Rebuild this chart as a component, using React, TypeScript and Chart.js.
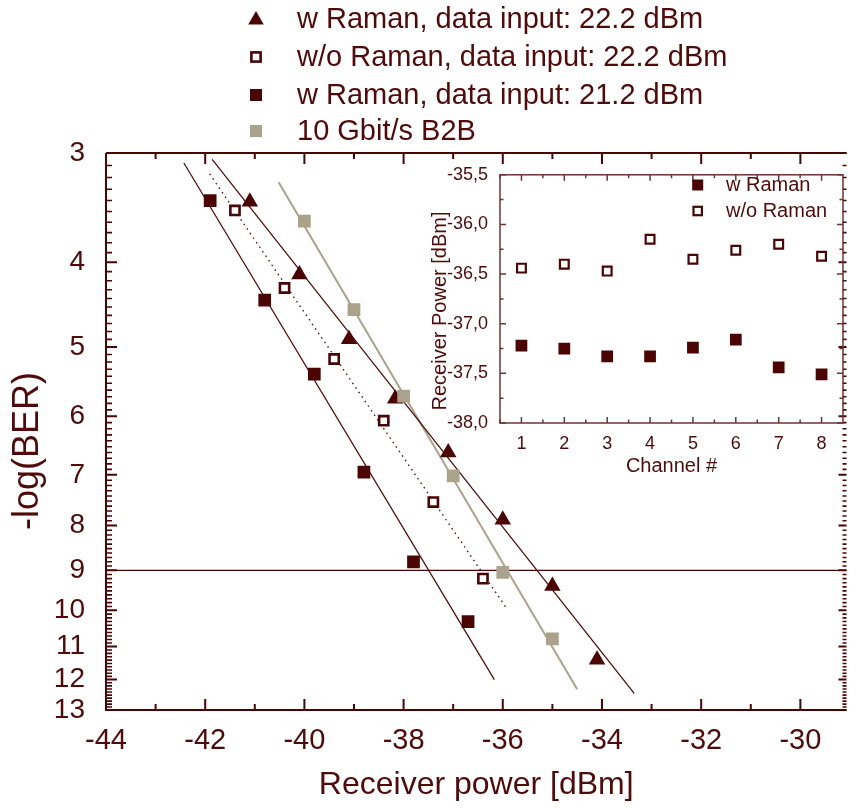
import React, { useEffect, useRef } from "react";
import { Chart, registerables } from "chart.js";

Chart.register(...registerables);

const FONT = "'Liberation Sans', Arial, Helvetica, sans-serif";
const MAROON = "#4b0404";
const TEXT = "#4f0a0a";
const GRAY = "#aba28c";
const INSET_FRAME = "#6e3434";

// ---------- main chart data ----------
const xTickValues = [-44, -42, -40, -38, -36, -34, -32, -30];
const yTickValues = [3, 4, 5, 6, 7, 8, 9, 10, 11, 12, 13];

const triX = [-41.1, -40.1, -39.1, -38.17, -37.1, -36.0, -35.0, -34.1];
const triY = [3.41, 4.13, 4.9, 5.73, 6.6, 7.88, 9.38, 11.39];
const openX = [-41.4, -40.4, -39.4, -38.4, -37.4, -36.4];
const openY = [3.49, 4.28, 5.16, 6.07, 7.52, 9.2];
const fillX = [-41.9, -40.8, -39.8, -38.8, -37.8, -36.7];
const fillY = [3.4, 4.42, 5.37, 6.95, 8.8, 10.3];
const b2bX = [-40.0, -39.0, -38.0, -37.0, -36.0, -35.0];
const b2bY = [3.59, 4.53, 5.69, 7.02, 9.05, 10.78];

const fitTriX = [-41.86, -33.35];
const fitTriY = [3.05, 12.44];
const fitOpenX = [-41.91, -35.9];
const fitOpenY = [3.17, 9.99];
const fitFillX = [-42.43, -36.17];
const fitFillY = [3.08, 12.0];
const fitB2BX = [-40.52, -34.5];
const fitB2BY = [3.24, 12.31];
const thresholdY = 9;

const legendLabels = [
  "w Raman, data input: 22.2 dBm",
  "w/o Raman, data input: 22.2 dBm",
  "w Raman, data input: 21.2 dBm",
  "10 Gbit/s B2B",
];

// ---------- inset data ----------
const channels = [1, 2, 3, 4, 5, 6, 7, 8];
const insetWRaman = [-37.22, -37.25, -37.33, -37.33, -37.24, -37.16, -37.44, -37.51];
const insetWoRaman = [-36.44, -36.4, -36.47, -36.15, -36.35, -36.26, -36.2, -36.32];
const insetYTicks = [-38, -37.5, -37, -36.5, -36, -35.5];
const insetLegend = ["w Raman", "w/o Raman"];

const pts = (xs: number[], ys: number[]) => xs.map((x, i) => ({ x, y: ys[i] }));

function triPath(ctx: CanvasRenderingContext2D, x: number, y: number, r: number) {
  ctx.beginPath();
  let rad = 0;
  for (let k = 0; k < 3; k++) {
    const px = x + Math.sin(rad) * r;
    const py = y - Math.cos(rad) * r;
    if (k === 0) ctx.moveTo(px, py);
    else ctx.lineTo(px, py);
    rad += (2 * Math.PI) / 3;
  }
  ctx.closePath();
}

const mainDecor = {
  id: "mainDecor",
  beforeDatasetsDraw(chart: any) {
    const { ctx, chartArea: a, scales } = chart;
    const yy = scales.y.getPixelForValue(thresholdY);
    ctx.save();
    ctx.strokeStyle = MAROON;
    ctx.lineWidth = 1.2;
    ctx.beginPath();
    ctx.moveTo(a.left, yy);
    ctx.lineTo(a.right, yy);
    ctx.stroke();
    ctx.restore();
  },
  afterDraw(chart: any) {
    const { ctx, chartArea: a, scales } = chart;
    const ax = scales.x;
    const ay = scales.y;
    ctx.save();
    ctx.strokeStyle = MAROON;
    ctx.lineWidth = 2;
    ctx.beginPath();
    ctx.moveTo(a.left, a.top);
    ctx.lineTo(a.left, a.bottom);
    ctx.lineTo(a.right, a.bottom);
    ctx.moveTo(a.left, a.top);
    ctx.lineTo(a.right, a.top);
    ctx.stroke();

    // x ticks (bottom and top, inward)
    for (let v = -44; v <= -29; v++) {
      const px = ax.getPixelForValue(v);
      if (px > a.right + 0.5) break;
      const major = v % 2 === 0;
      const len = major ? 11 : 6;
      ctx.beginPath();
      ctx.moveTo(px, a.bottom);
      ctx.lineTo(px, a.bottom - len);
      ctx.moveTo(px, a.top);
      ctx.lineTo(px, a.top + len);
      ctx.stroke();
    }
    // y ticks (left and right, inward)
    for (let i = 30; i <= 130; i++) {
      const py = ay.getPixelForValue(i / 10);
      const major = i % 10 === 0;
      ctx.lineWidth = major ? 2 : 1.6;
      ctx.beginPath();
      ctx.moveTo(a.left, py);
      ctx.lineTo(a.left + (major ? 11 : 6), py);
      ctx.moveTo(a.right, py);
      ctx.lineTo(a.right - (major ? 8 : 4), py);
      ctx.stroke();
    }

    // axis titles
    ctx.fillStyle = TEXT;
    ctx.textBaseline = "middle";
    ctx.textAlign = "center";
    ctx.font = `32px ${FONT}`;
    ctx.fillText("Receiver power [dBm]", (a.left + a.right) / 2, 785);
    ctx.save();
    ctx.translate(28, 451);
    ctx.rotate(-Math.PI / 2);
    ctx.font = `36px ${FONT}`;
    ctx.fillText("-log(BER)", 0, 0);
    ctx.restore();

    // legend
    const rows = [19, 57, 95, 131];
    const mx = 256;
    ctx.textAlign = "left";
    ctx.font = `29px ${FONT}`;
    legendLabels.forEach((lab, i) => {
      const y = rows[i];
      ctx.fillStyle = TEXT;
      ctx.fillText(lab, 297, y + 1);
      if (i === 0) {
        ctx.fillStyle = MAROON;
        triPath(ctx, mx, y + 1, 9);
        ctx.fill();
      } else if (i === 1) {
        ctx.fillStyle = "#fff";
        ctx.strokeStyle = MAROON;
        ctx.lineWidth = 2.6;
        ctx.fillRect(mx - 4.6, y - 4.6, 9.2, 9.2);
        ctx.strokeRect(mx - 4.6, y - 4.6, 9.2, 9.2);
      } else {
        ctx.fillStyle = i === 2 ? MAROON : GRAY;
        ctx.fillRect(mx - 6, y - 6, 12, 12);
      }
    });
    ctx.restore();
  },
};

const insetDecor = {
  id: "insetDecor",
  afterDraw(chart: any) {
    const { ctx, chartArea: a, scales } = chart;
    const ax = scales.x;
    const ay = scales.y;
    ctx.save();
    ctx.strokeStyle = INSET_FRAME;
    ctx.lineWidth = 1.5;
    ctx.strokeRect(a.left, a.top, a.right - a.left, a.bottom - a.top);
    for (let i = 1; i <= 16; i++) {
      const v = i / 2;
      const px = ax.getPixelForValue(v);
      const len = i % 2 === 0 ? 6 : 3.5;
      ctx.beginPath();
      ctx.moveTo(px, a.bottom);
      ctx.lineTo(px, a.bottom - len);
      ctx.moveTo(px, a.top);
      ctx.lineTo(px, a.top + len);
      ctx.stroke();
    }
    for (let i = 0; i <= 10; i++) {
      const v = -38 + i * 0.25;
      const py = ay.getPixelForValue(v);
      const len = i % 2 === 0 ? 6 : 3.5;
      ctx.beginPath();
      ctx.moveTo(a.left, py);
      ctx.lineTo(a.left + len, py);
      ctx.moveTo(a.right, py);
      ctx.lineTo(a.right - len, py);
      ctx.stroke();
    }
    // titles
    ctx.fillStyle = TEXT;
    ctx.textBaseline = "middle";
    ctx.textAlign = "center";
    ctx.font = `20px ${FONT}`;
    ctx.fillText("Channel #", (a.left + a.right) / 2, 306);
    ctx.save();
    ctx.translate(25, 151);
    ctx.rotate(-Math.PI / 2);
    ctx.fillText("Receiver Power [dBm]", 0, 0);
    ctx.restore();
    // legend
    const lx = 282.7;
    ctx.textAlign = "left";
    ctx.fillStyle = MAROON;
    ctx.fillRect(lx - 5.5, 25 - 5.5, 11, 11);
    ctx.fillStyle = "#fff";
    ctx.strokeStyle = MAROON;
    ctx.lineWidth = 2.2;
    ctx.fillRect(lx - 4.2, 51 - 4.2, 8.4, 8.4);
    ctx.strokeRect(lx - 4.2, 51 - 4.2, 8.4, 8.4);
    ctx.fillStyle = TEXT;
    ctx.fillText(insetLegend[0], 311, 25);
    ctx.fillText(insetLegend[1], 311, 51);
    ctx.restore();
  },
};

export default function App() {
  const mainRef = useRef<HTMLCanvasElement>(null);
  const insetRef = useRef<HTMLCanvasElement>(null);

  useEffect(() => {
    const main = new Chart(mainRef.current as HTMLCanvasElement, {
      type: "scatter",
      data: {
        datasets: [
          {
            data: pts(fitTriX, fitTriY), showLine: true, pointRadius: 0,
            borderColor: MAROON, borderWidth: 1.2, order: 10,
          },
          {
            data: pts(fitOpenX, fitOpenY), showLine: true, pointRadius: 0,
            borderColor: MAROON, borderWidth: 1.3, borderDash: [1.5, 4], order: 10,
          },
          {
            data: pts(fitFillX, fitFillY), showLine: true, pointRadius: 0,
            borderColor: MAROON, borderWidth: 1.2, order: 10,
          },
          {
            data: pts(fitB2BX, fitB2BY), showLine: true, pointRadius: 0,
            borderColor: GRAY, borderWidth: 2, order: 10,
          },
          {
            label: legendLabels[0], data: pts(triX, triY), pointStyle: "triangle",
            pointRadius: 9.5, backgroundColor: MAROON, borderColor: MAROON, borderWidth: 0, order: 4,
          },
          {
            label: legendLabels[1], data: pts(openX, openY), pointStyle: "rect",
            pointRadius: 6.5, backgroundColor: "#ffffff", borderColor: MAROON, borderWidth: 2.6, order: 3,
          },
          {
            label: legendLabels[2], data: pts(fillX, fillY), pointStyle: "rect",
            pointRadius: 9, backgroundColor: MAROON, borderColor: MAROON, borderWidth: 0, order: 2,
          },
          {
            label: legendLabels[3], data: pts(b2bX, b2bY), pointStyle: "rect",
            pointRadius: 9, backgroundColor: GRAY, borderColor: GRAY, borderWidth: 0, order: 1,
          },
        ],
      },
      options: {
        responsive: false,
        animation: false,
        events: [],
        layout: { padding: { top: 153, left: 0, right: 0, bottom: 0 } },
        plugins: { legend: { display: false }, tooltip: { enabled: false } },
        scales: {
          x: {
            type: "linear",
            min: -44,
            max: -29.07,
            afterBuildTicks: (s: any) => { s.ticks = xTickValues.map((v) => ({ value: v })); },
            afterFit: (s: any) => { s.height = 98; },
            grid: { display: false },
            border: { display: false },
            ticks: {
              autoSkip: false, maxRotation: 0, padding: 6, color: TEXT,
              font: { size: 29, family: FONT },
              callback: (v: any) => String(v),
            },
          },
          y: {
            type: "logarithmic",
            reverse: true,
            min: 3,
            max: 13,
            afterBuildTicks: (s: any) => { s.ticks = yTickValues.map((v) => ({ value: v })); },
            afterFit: (s: any) => { s.width = 106; },
            grid: { display: false },
            border: { display: false },
            ticks: {
              autoSkip: false, padding: 13, color: TEXT,
              font: { size: 28, family: FONT },
              callback: (v: any) => String(v),
            },
          },
        },
      },
      plugins: [mainDecor],
    } as any);

    const inset = new Chart(insetRef.current as HTMLCanvasElement, {
      type: "scatter",
      data: {
        datasets: [
          {
            label: insetLegend[0], data: pts(channels, insetWRaman), pointStyle: "rect",
            pointRadius: 8.3, backgroundColor: MAROON, borderColor: MAROON, borderWidth: 0,
          },
          {
            label: insetLegend[1], data: pts(channels, insetWoRaman), pointStyle: "rect",
            pointRadius: 6.2, backgroundColor: "#ffffff", borderColor: MAROON, borderWidth: 2.2,
          },
        ],
      },
      options: {
        responsive: false,
        animation: false,
        events: [],
        layout: { padding: { top: 9, right: 12, left: 0, bottom: 0 } },
        plugins: { legend: { display: false }, tooltip: { enabled: false } },
        scales: {
          x: {
            type: "linear",
            min: 0.5,
            max: 8.5,
            afterBuildTicks: (s: any) => { s.ticks = channels.map((v) => ({ value: v })); },
            afterFit: (s: any) => { s.height = 57; },
            grid: { display: false },
            border: { display: false },
            ticks: {
              autoSkip: false, maxRotation: 0, padding: 2, color: TEXT,
              font: { size: 18, family: FONT },
              callback: (v: any) => String(v),
            },
          },
          y: {
            type: "linear",
            min: -38,
            max: -35.5,
            afterBuildTicks: (s: any) => { s.ticks = insetYTicks.map((v) => ({ value: v })); },
            afterFit: (s: any) => { s.width = 85; },
            grid: { display: false },
            border: { display: false },
            ticks: {
              autoSkip: false, padding: 4, color: TEXT,
              font: { size: 18, family: FONT },
              callback: (v: any) => Number(v).toFixed(1).replace(".", ","),
            },
          },
        },
      },
      plugins: [insetDecor],
    } as any);

    return () => {
      main.destroy();
      inset.destroy();
    };
  }, []);

  return (
    <div style={{ position: "absolute", left: 0, top: 0, width: 856, height: 808, background: "#ffffff" }}>
      <canvas ref={mainRef} width={856} height={808} style={{ position: "absolute", left: 0, top: 0 }} />
      <canvas ref={insetRef} width={440} height={320} style={{ position: "absolute", left: 415, top: 160 }} />
    </div>
  );
}
